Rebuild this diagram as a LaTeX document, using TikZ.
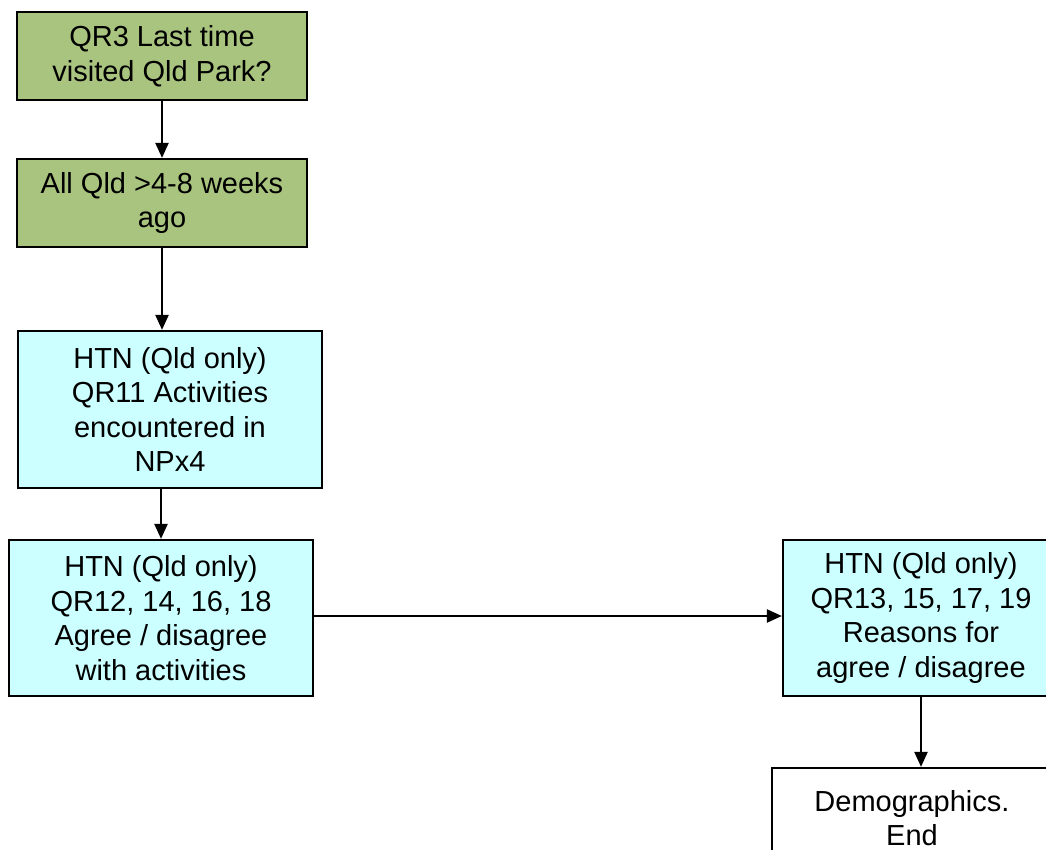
\documentclass[tikz,border=0pt]{standalone}
\usepackage{fontspec}
\setmainfont{Liberation Sans}
\usetikzlibrary{arrows.meta}
\definecolor{boxgreen}{RGB}{169,196,126}
\definecolor{boxcyan}{RGB}{204,255,255}
\tikzset{
  flowbox/.style={draw=black, line width=2.2pt, align=center, inner sep=0pt,
    font=\fontsize{29}{34.5}\selectfont},
  greenbox/.style={flowbox, fill=boxgreen},
  cyanbox/.style={flowbox, fill=boxcyan},
  whitebox/.style={flowbox, fill=white},
  flowarrow/.style={draw=black, line width=2.2pt, -{Triangle[length=15pt,width=13pt]}}
}
\begin{document}
\begin{tikzpicture}[x=1pt,y=-1pt]
\useasboundingbox (0,0) rectangle (1046,850);
\clip (0,0) rectangle (1046,850);
\node[greenbox, minimum width=290pt, minimum height=88pt] (b1) at (162,56) {QR3 Last time\\visited Qld Park?};
\node[greenbox, minimum width=290pt, minimum height=88pt] (b2) at (162,203) {All Qld >4-8 weeks\\ago};
\node[cyanbox, minimum width=304pt, minimum height=157pt] (b3) at (170,409.5) {HTN (Qld only)\\QR11 Activities\\encountered in\\NPx4};
\node[cyanbox, minimum width=304pt, minimum height=156pt] (b4) at (161,618) {HTN (Qld only)\\QR12, 14, 16, 18\\Agree / disagree\\with activities};
\node[cyanbox, minimum width=276pt, minimum height=156pt] (b5) at (921,618) {HTN (Qld only)\\QR13, 15, 17, 19\\Reasons for\\agree / disagree};
\node[whitebox, minimum width=280pt, minimum height=100pt] (b6) at (912,818) {Demographics.\\End};
\draw[flowarrow] (b1.south) -- (b2.north);
\draw[flowarrow] (b2.south) -- (b2.south |- b3.north);
\draw[flowarrow] (b4.north |- b3.south) -- (b4.north);
\draw[flowarrow] (b4.east |- 0,616) -- (b5.west |- 0,616);
\draw[flowarrow] (b5.south) -- (b5.south |- b6.north);
\end{tikzpicture}
\end{document}
